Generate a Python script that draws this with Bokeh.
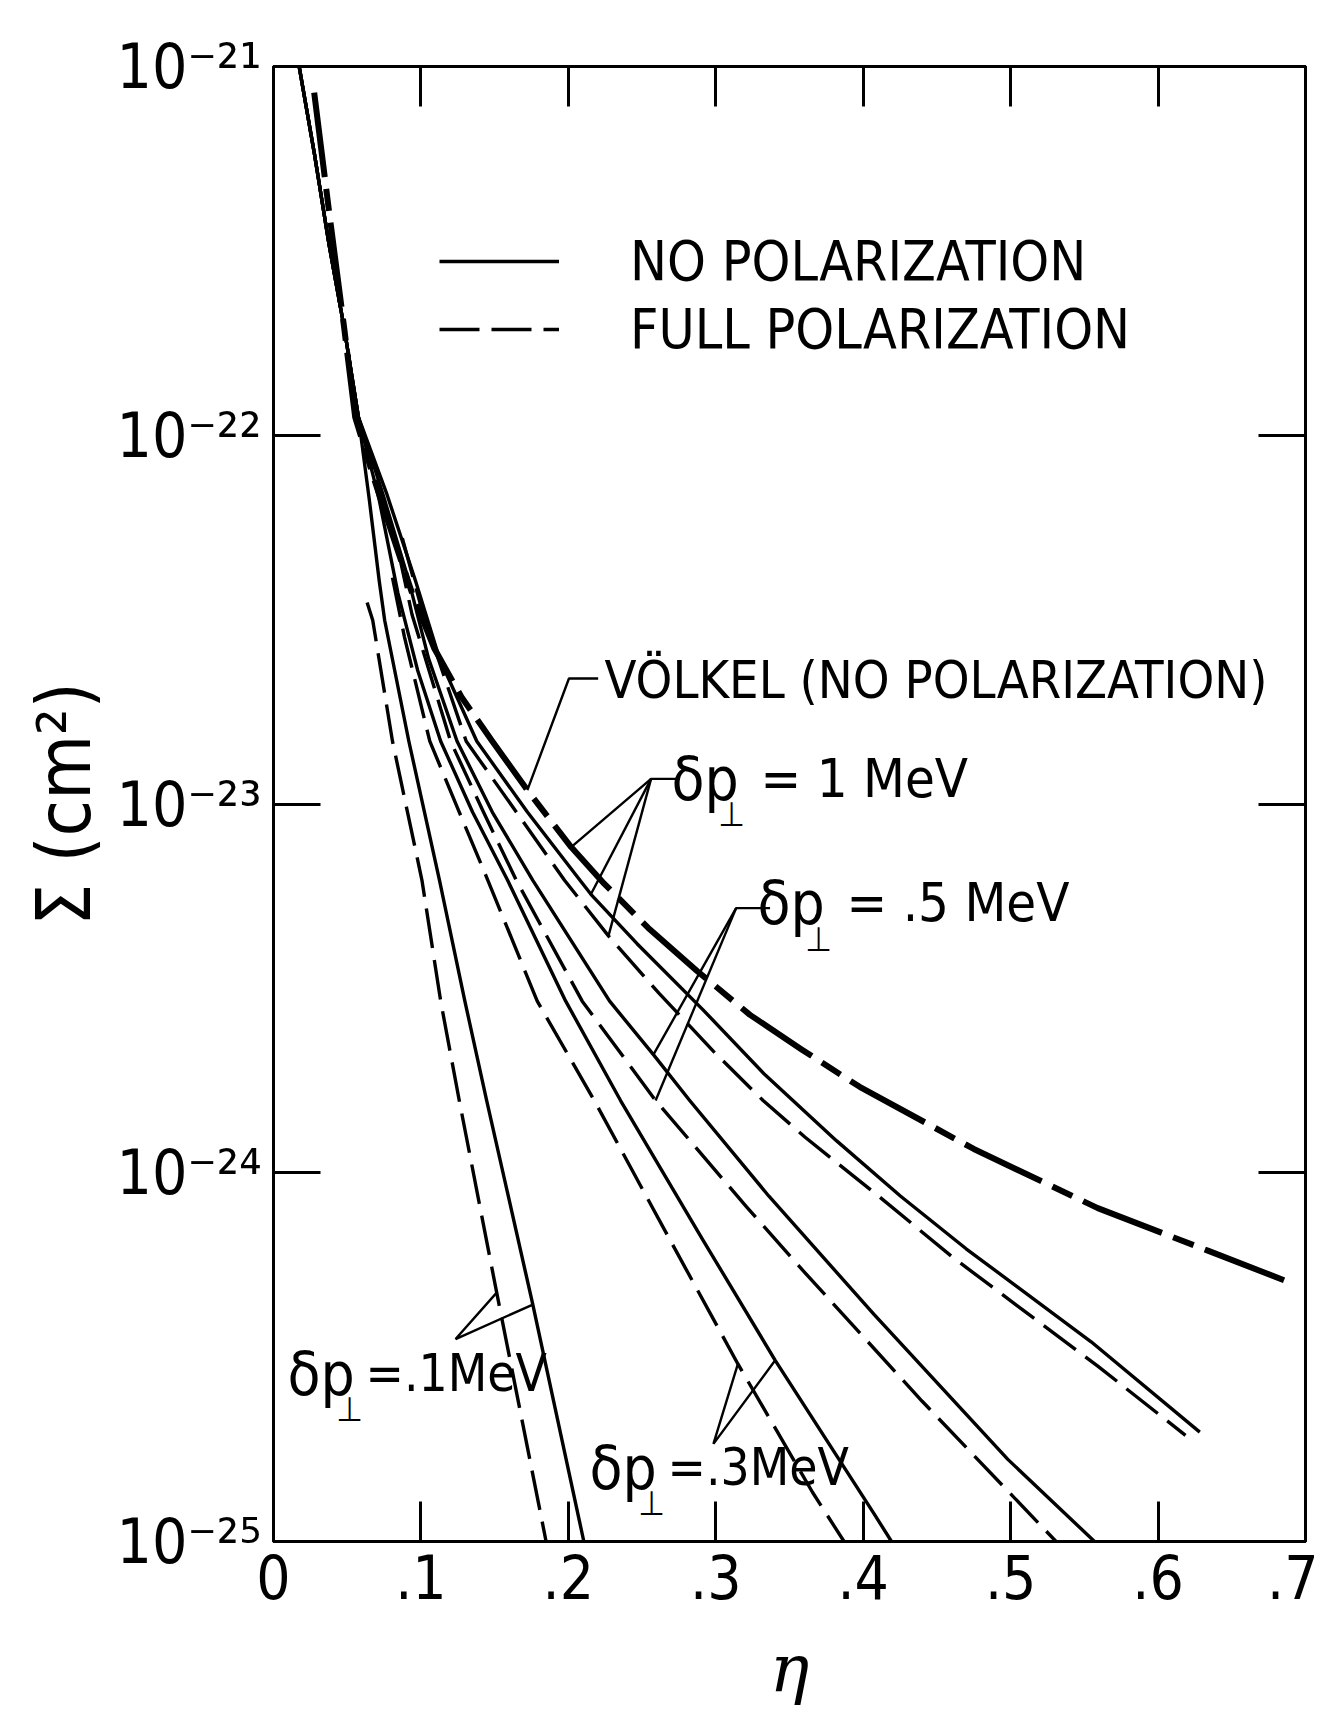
from bokeh.plotting import figure
from bokeh.models import (Range1d, LinearAxis, LogAxis, FixedTicker, Label, Legend,
                          LegendItem, CustomJSTickFormatter)
from bokeh.embed import file_html
from bokeh.resources import INLINE

# ---------------- data (eta, Sigma in cm^2) ----------------
# common no-polarization trunk at small eta
trunk_eta = [0.0174, 0.0278, 0.0375, 0.0479, 0.0576]
trunk_sigma = [1.00e-21, 5.78e-22, 3.32e-22, 1.96e-22, 1.12e-22]

# delta p_perp = .1 MeV
p01_solid_eta = [0.0650, 0.0717, 0.0754, 0.0918, 0.1126, 0.1298, 0.1446, 0.1759, 0.2105]
p01_solid_sigma = [6.68e-23, 4.03e-23, 3.15e-23, 1.48e-23, 6.21e-24, 2.92e-24, 1.57e-24, 4.39e-25, 1.0e-25]
p01_dash_eta = [0.0635, 0.0673, 0.0807, 0.1007, 0.1134, 0.1260, 0.1514, 0.1849]
p01_dash_sigma = [3.52e-23, 3.15e-23, 1.48e-23, 6.21e-24, 2.92e-24, 1.57e-24, 4.73e-25, 1.0e-25]

# delta p_perp = .3 MeV
p03_solid_eta = [0.0717, 0.0844, 0.0977, 0.1134, 0.1350, 0.1588, 0.1982, 0.2354, 0.2912, 0.3403, 0.4073, 0.4192]
p03_solid_sigma = [6.68e-23, 3.73e-23, 2.31e-23, 1.48e-23, 9.51e-24, 6.21e-24, 2.92e-24, 1.57e-24, 6.58e-25, 3.10e-25, 1.19e-25, 1.0e-25]
p03_dash_eta = [0.0807, 0.0888, 0.1060, 0.1260, 0.1454, 0.1789, 0.2176, 0.2689, 0.3150, 0.3656, 0.3870]
p03_dash_sigma = [4.11e-23, 2.84e-23, 1.48e-23, 9.51e-24, 6.21e-24, 2.92e-24, 1.57e-24, 6.58e-25, 3.03e-25, 1.36e-25, 1.0e-25]

# delta p_perp = .5 MeV
p05_solid_eta = [0.0747, 0.0918, 0.1052, 0.1245, 0.1484, 0.1759, 0.2280, 0.2577, 0.2823, 0.3359, 0.4073, 0.4981, 0.5569]
p05_solid_sigma = [6.82e-23, 4.03e-23, 2.48e-23, 1.48e-23, 9.51e-24, 6.21e-24, 2.92e-24, 2.09e-24, 1.57e-24, 8.65e-25, 4.13e-25, 1.67e-25, 1.0e-25]
p05_dash_eta = [0.0844, 0.0940, 0.1201, 0.1424, 0.1647, 0.2094, 0.2592, 0.3210, 0.3604, 0.4400, 0.5308]
p05_dash_sigma = [4.91e-23, 3.26e-23, 1.48e-23, 9.51e-24, 6.21e-24, 2.92e-24, 1.57e-24, 8.07e-25, 5.36e-25, 2.40e-25, 1.0e-25]

# delta p_perp = 1 MeV
p1_solid_eta = [0.0769, 0.0963, 0.1126, 0.1379, 0.1722, 0.2079, 0.2153, 0.2466, 0.2912, 0.3336, 0.3820, 0.4252, 0.4698, 0.5546, 0.6283]
p1_solid_sigma = [6.92e-23, 4.03e-23, 2.48e-23, 1.48e-23, 9.51e-24, 6.21e-24, 5.69e-24, 4.18e-24, 2.77e-24, 1.84e-24, 1.22e-24, 8.65e-25, 6.22e-25, 3.48e-25, 1.98e-25]
p1_dash_eta = [0.0874, 0.1016, 0.1307, 0.1647, 0.1974, 0.2272, 0.2614, 0.2986, 0.3321, 0.3604, 0.4103, 0.4609, 0.5591, 0.6186]
p1_dash_sigma = [5.26e-23, 3.26e-23, 1.48e-23, 9.51e-24, 6.21e-24, 4.39e-24, 3.07e-24, 2.13e-24, 1.57e-24, 1.25e-24, 8.65e-25, 5.89e-25, 2.99e-25, 1.94e-25]

# Voelkel (no polarization)
vol_eta = [0.0276, 0.0375, 0.0479, 0.0554, 0.0680, 0.0807, 0.0940, 0.1089, 0.1275, 0.1484, 0.1722,
           0.2019, 0.2243, 0.2540, 0.2875, 0.3232, 0.3582, 0.3976, 0.4750, 0.5591, 0.6342, 0.6855]
vol_sigma = [8.49e-22, 4.10e-22, 1.96e-22, 1.12e-22, 7.67e-23, 5.37e-23, 3.73e-23, 2.65e-23, 1.95e-23, 1.48e-23, 1.09e-23,
             7.64e-24, 6.08e-24, 4.62e-24, 3.52e-24, 2.68e-24, 2.16e-24, 1.71e-24, 1.16e-24, 8.02e-25, 6.14e-25, 5.11e-25]

x_label_pos = [0.0, 0.1, 0.2, 0.3, 0.4, 0.5, 0.6, 0.7]
x_tick_labels = ["0", ".1", ".2", ".3", ".4", ".5", ".6", ".7"]
y_label_pos = [1e-21, 1e-22, 1e-23, 1e-24, 1e-25]
y_tick_labels = ["10⁻²¹", "10⁻²²", "10⁻²³", "10⁻²⁴", "10⁻²⁵"]

# annotation leader apexes (data coordinates)
vol_knee = (0.2004, 2.19e-23)
vol_end_eta = 0.2202
d1_apex = (0.2561, 1.17e-23)
d1_end_eta = 0.2757
d05_apex = (0.3138, 5.22e-24)
d05_end_eta = 0.3368
d01_apex = (0.1235, 3.54e-25)
d03_apex = (0.2984, 1.84e-25)

# ---------------- figure ----------------
FONT = "DejaVu Sans Condensed, Liberation Sans, sans-serif"
LW = 3.4
DASH = "40 12"

p = figure(width=1318, height=1719, x_range=Range1d(0.0, 0.7), y_range=Range1d(1e-25, 1e-21),
           y_axis_type="log", output_backend="svg", toolbar_location=None,
           min_border_left=273, min_border_right=13, min_border_top=66, min_border_bottom=178)
p.grid.visible = False
p.outline_line_color = "black"
p.outline_line_width = 3
p.background_fill_color = "white"
p.border_fill_color = "white"

empty = CustomJSTickFormatter(code="return ''")
bottom_axis = p.below[0]
left_axis = p.left[0]
top_axis = LinearAxis()
right_axis = LogAxis()
p.add_layout(top_axis, "above")
p.add_layout(right_axis, "right")

bottom_axis.ticker = FixedTicker(ticks=x_label_pos)
bottom_axis.major_label_overrides = dict(zip(x_label_pos, x_tick_labels))
top_axis.ticker = FixedTicker(ticks=x_label_pos)
top_axis.formatter = empty
for ax in [bottom_axis, top_axis]:
    ax.major_tick_in = 40

left_axis.ticker = FixedTicker(ticks=y_label_pos)
left_axis.major_label_overrides = dict(zip(y_label_pos, y_tick_labels))
right_axis.ticker = FixedTicker(ticks=y_label_pos)
right_axis.formatter = empty
for ax in [left_axis, right_axis]:
    ax.major_tick_in = 47

for ax in [bottom_axis, top_axis, left_axis, right_axis]:
    ax.major_tick_out = 0
    ax.minor_tick_line_color = None
    ax.axis_line_width = 3
    ax.major_tick_line_width = 3
    ax.axis_line_color = "black"
    ax.major_tick_line_color = "black"
    ax.major_label_text_color = "black"
    ax.major_label_text_font = FONT
for ax in [top_axis, right_axis]:
    ax.major_label_standoff = 0

bottom_axis.major_label_text_font_size = "60px"
bottom_axis.major_label_standoff = 12
bottom_axis.axis_label = "η"
bottom_axis.axis_label_text_font = "DejaVu Serif"
bottom_axis.axis_label_text_font_style = "italic"
bottom_axis.axis_label_text_font_size = "66px"
bottom_axis.axis_label_text_color = "black"
bottom_axis.axis_label_standoff = 28

left_axis.major_label_text_font_size = "62px"
left_axis.major_label_standoff = 12
left_axis.axis_label = "Σ (cm²)"
left_axis.axis_label_text_font = FONT
left_axis.axis_label_text_font_style = "normal"
left_axis.axis_label_text_font_size = "74px"
left_axis.axis_label_text_color = "black"
left_axis.axis_label_standoff = 6

# curves
solid_sets = [(p01_solid_eta, p01_solid_sigma), (p03_solid_eta, p03_solid_sigma),
              (p05_solid_eta, p05_solid_sigma), (p1_solid_eta, p1_solid_sigma)]
solid_r = []
for e, s in solid_sets:
    solid_r.append(p.line(trunk_eta + e, trunk_sigma + s, line_color="black", line_width=LW,
                          line_join="round"))
dash_sets = [(p01_dash_eta, p01_dash_sigma), (p03_dash_eta, p03_dash_sigma),
             (p05_dash_eta, p05_dash_sigma), (p1_dash_eta, p1_dash_sigma)]
dash_r = []
for e, s in dash_sets:
    dash_r.append(p.line(e, s, line_color="black", line_width=LW, line_dash=DASH, line_join="round"))
p.line(vol_eta, vol_sigma, line_color="black", line_width=6, line_dash="85 12 22 12", line_join="round")

# leader lines
def leader(xs, ys):
    p.line(xs, ys, line_color="black", line_width=2.4)

leader([vol_eta[10], vol_knee[0], vol_end_eta], [vol_sigma[10], vol_knee[1], vol_knee[1]])
leader([d1_end_eta, d1_apex[0], vol_eta[11]], [d1_apex[1], d1_apex[1], vol_sigma[11]])
leader([d1_apex[0], p1_solid_eta[6]], [d1_apex[1], p1_solid_sigma[6]])
leader([d1_apex[0], p1_dash_eta[5]], [d1_apex[1], p1_dash_sigma[5]])
leader([d05_end_eta, d05_apex[0], p05_solid_eta[7]], [d05_apex[1], d05_apex[1], p05_solid_sigma[7]])
leader([d05_apex[0], p05_dash_eta[6]], [d05_apex[1], p05_dash_sigma[6]])
leader([p01_dash_eta[6], d01_apex[0], p01_solid_eta[7]], [p01_dash_sigma[6], d01_apex[1], p01_solid_sigma[7]])
leader([p03_dash_eta[8], d03_apex[0], p03_solid_eta[9]], [p03_dash_sigma[8], d03_apex[1], p03_solid_sigma[9]])

# legend
legend = Legend(items=[LegendItem(label="NO POLARIZATION", renderers=[solid_r[0]]),
                       LegendItem(label="FULL POLARIZATION", renderers=[dash_r[0]])],
                location=(166, 1180), orientation="vertical", glyph_width=120, glyph_height=62,
                label_height=62, spacing=4, padding=0, margin=0, label_standoff=71,
                border_line_color=None, background_fill_alpha=0,
                label_text_font=FONT, label_text_font_size="55px", label_text_color="black")
p.add_layout(legend)

def lab(text, sx, sy, size, align="left"):
    p.add_layout(Label(x=sx, y=sy, x_units="screen", y_units="screen", text=text, text_font=FONT,
                       text_font_size=f"{size}px", text_align=align, text_baseline="middle",
                       text_color="black"))

# curve labels
lab("VÖLKEL (NO POLARIZATION)", 331, 862, 52)
lab("δp", 398, 763, 60)
lab("⊥", 458, 728, 34, align="center")
lab("= 1 MeV", 487, 763, 54)
lab("δp", 484, 639, 60)
lab("⊥", 545, 603, 34, align="center")
lab("= .5 MeV", 573, 639, 54)
lab("δp", 14, 168, 60)
lab("⊥", 76, 133, 34, align="center")
lab("=.1MeV", 92, 168, 51)
lab("δp", 316, 74, 60)
lab("⊥", 378, 39, 34, align="center")
lab("=.3MeV", 394, 74, 51)

open("out.html", "w").write(file_html(p, INLINE))
